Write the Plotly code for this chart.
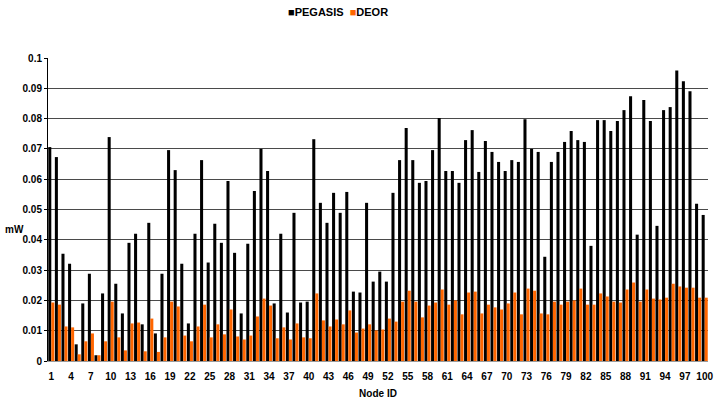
import plotly.graph_objects as go

nodes = list(range(1, 101))
pegasis = [
    0.0706, 0.0673, 0.0354, 0.0321, 0.0055, 0.0190, 0.0288, 0.0019, 0.0223, 0.0739,
    0.0255, 0.0157, 0.0390, 0.0420, 0.0121, 0.0456, 0.0091, 0.0288, 0.0696, 0.0630,
    0.0321, 0.0124, 0.0420, 0.0663, 0.0325, 0.0453, 0.0390, 0.0594, 0.0357, 0.0157,
    0.0387, 0.0561, 0.0700, 0.0627, 0.0190, 0.0420, 0.0160, 0.0489, 0.0193, 0.0196,
    0.0732, 0.0522, 0.0456, 0.0555, 0.0489, 0.0558, 0.0229, 0.0226, 0.0522, 0.0262,
    0.0295, 0.0262, 0.0555, 0.0663, 0.0769, 0.0663, 0.0588, 0.0594, 0.0696, 0.0802,
    0.0627, 0.0627, 0.0588, 0.0729, 0.0762, 0.0624, 0.0726, 0.0690, 0.0657, 0.0627,
    0.0663, 0.0657, 0.0798, 0.0700, 0.0690, 0.0344, 0.0657, 0.0690, 0.0723, 0.0759,
    0.0729, 0.0723, 0.0380, 0.0795, 0.0795, 0.0759, 0.0792, 0.0828, 0.0874, 0.0417,
    0.0861, 0.0792, 0.0446, 0.0828, 0.0838, 0.0959, 0.0923, 0.0890, 0.0519, 0.0482,
]
deor = [
    0.0193, 0.0186, 0.0114, 0.0111, 0.0022, 0.0065, 0.0091, 0.0019, 0.0065, 0.0196,
    0.0078, 0.0035, 0.0124, 0.0127, 0.0032, 0.0140, 0.0030, 0.0078, 0.0196, 0.0180,
    0.0084, 0.0065, 0.0114, 0.0186, 0.0078, 0.0121, 0.0088, 0.0170, 0.0081, 0.0071,
    0.0084, 0.0147, 0.0206, 0.0183, 0.0075, 0.0111, 0.0071, 0.0124, 0.0078, 0.0075,
    0.0223, 0.0134, 0.0114, 0.0137, 0.0121, 0.0167, 0.0094, 0.0107, 0.0121, 0.0101,
    0.0104, 0.0140, 0.0130, 0.0196, 0.0232, 0.0196, 0.0144, 0.0183, 0.0193, 0.0236,
    0.0186, 0.0200, 0.0154, 0.0226, 0.0229, 0.0157, 0.0186, 0.0177, 0.0170, 0.0190,
    0.0226, 0.0154, 0.0239, 0.0232, 0.0157, 0.0154, 0.0196, 0.0186, 0.0196, 0.0200,
    0.0239, 0.0186, 0.0186, 0.0223, 0.0213, 0.0196, 0.0193, 0.0236, 0.0259, 0.0196,
    0.0236, 0.0206, 0.0203, 0.0209, 0.0255, 0.0246, 0.0242, 0.0242, 0.0209, 0.0209,
]
series_names = ["PEGASIS", "DEOR"]
series_colors = ["#000000", "#FF6600"]
x_ticks = list(range(1, 101, 3))
y_ticks = [0, 0.01, 0.02, 0.03, 0.04, 0.05, 0.06, 0.07, 0.08, 0.09, 0.1]
y_tick_text = ["0", "0.01", "0.02", "0.03", "0.04", "0.05", "0.06", "0.07", "0.08", "0.09", "0.1"]

FAM = "Liberation Sans, Arial, sans-serif"

fig = go.Figure()
fig.add_trace(go.Bar(x=nodes, y=pegasis, name=series_names[0], marker=dict(color=series_colors[0], line_width=0)))
fig.add_trace(go.Bar(x=nodes, y=deor, name=series_names[1], marker=dict(color=series_colors[1], line_width=0)))

ML, MR, MT, MB = 48, 6, 58, 41
plot_w = 719 - ML - MR
plot_h = 403 - MT - MB

legend_text = " ".join(
    f"<span style='color:{c}'>■</span>{n} " for n, c in zip(series_names, series_colors)
).strip()

fig.update_layout(
    width=719, height=403,
    margin=dict(l=ML, r=MR, t=MT, b=MB),
    paper_bgcolor="white", plot_bgcolor="white",
    barmode="group", bargap=0.08, bargroupgap=0,
    font=dict(family=FAM, size=10, color="#000"),
    showlegend=False,
    xaxis=dict(range=[0.5, 100.5], tickmode="array", tickvals=x_ticks, ticktext=[str(v) for v in x_ticks],
               showgrid=False, showline=True, linecolor="#999", linewidth=1,
               ticks="outside", ticklen=6, tickcolor="rgba(0,0,0,0)",
               tickfont=dict(family=FAM, size=10, color="#000", weight="bold"),
               title=dict(text="Node ID", font=dict(family=FAM, size=10, color="#000", weight="bold"), standoff=8)),
    yaxis=dict(range=[0, 0.1], tickmode="array", tickvals=y_ticks, ticktext=y_tick_text,
               showgrid=True, gridcolor="#4a4a4a", gridwidth=1, zeroline=False,
               showline=True, linecolor="#000", linewidth=1, ticks="outside", ticklen=3, tickcolor="#000",
               tickfont=dict(family=FAM, size=10, color="#000", weight="bold")),
    annotations=[
        dict(text="mW", x=(14 - ML) / plot_w, y=(403 - MB - 230) / plot_h, xref="paper", yref="paper",
             showarrow=False, xanchor="center", yanchor="middle",
             font=dict(family=FAM, size=10, color="#000", weight="bold")),
        dict(text=legend_text, x=(340 - ML) / plot_w, y=(403 - MB - 12) / plot_h, xref="paper", yref="paper",
             showarrow=False, xanchor="center", yanchor="middle",
             font=dict(family=FAM, size=11, color="#000", weight="bold")),
    ],
)

fig.write_html("out.html")
